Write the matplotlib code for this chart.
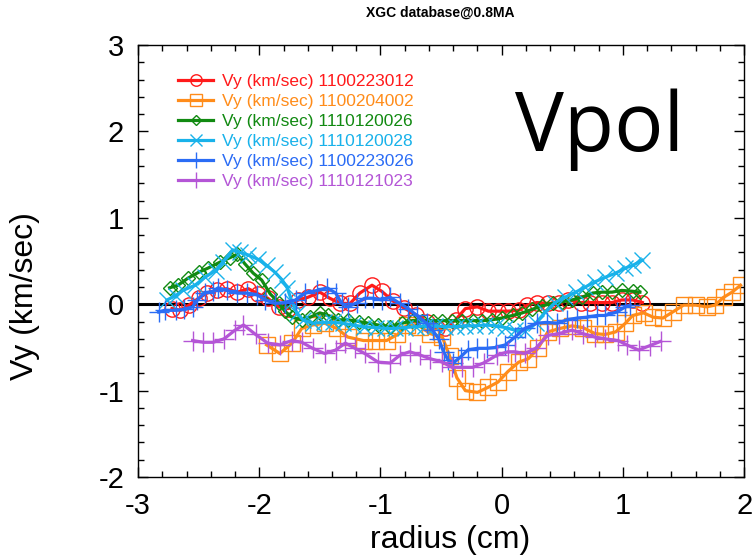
import numpy as np
import matplotlib
matplotlib.use('Agg')
import matplotlib.pyplot as plt
from matplotlib.ticker import MultipleLocator

plt.rcParams['font.family'] = ['Liberation Sans', 'DejaVu Sans']
plt.rcParams['axes.unicode_minus'] = False

# ---- data ----
x_red = [-2.72, -2.65, -2.58, -2.50, -2.43, -2.35, -2.27, -2.18, -2.09, -2.01, -1.93, -1.84, -1.76,
         -1.68, -1.60, -1.50, -1.42, -1.33, -1.25, -1.17, -1.07, -0.99, -0.90, -0.81, -0.71, -0.62,
         -0.53, -0.47, -0.38, -0.30, -0.20, -0.11, -0.03, 0.05, 0.14, 0.21, 0.29, 0.38, 0.47, 0.55,
         0.65, 0.73, 0.83, 0.91, 0.99, 1.08, 1.16]
y_red = [-0.05, -0.07, -0.01, 0.07, 0.13, 0.16, 0.18, 0.14, 0.18, 0.12, 0.07, -0.03, -0.05,
         0.05, 0.08, 0.14, 0.07, 0.01, 0.01, 0.13, 0.22, 0.15, 0.04, -0.04, -0.12, -0.20,
         -0.28, -0.28, -0.18, -0.05, -0.03, -0.08, -0.08, -0.08, -0.07, -0.01, 0.02, 0.01, 0.01, 0.05,
         0.02, 0.02, 0.02, 0.02, 0.05, 0.05, 0.02]

x_orange = [-1.94, -1.83, -1.73, -1.65, -1.56, -1.46, -1.36, -1.27, -1.14, -1.04, -0.95, -0.86,
            -0.78, -0.67, -0.59, -0.49, -0.43, -0.37, -0.30, -0.20, -0.11, -0.03, 0.05, 0.14,
            0.22, 0.30, 0.38, 0.48, 0.58, 0.67, 0.77, 0.85, 0.94, 1.02, 1.08, 1.17, 1.25, 1.33,
            1.41, 1.50, 1.60, 1.69, 1.76, 1.83, 1.90, 1.97]
y_orange = [-0.47, -0.57, -0.45, -0.28, -0.24, -0.22, -0.28, -0.38, -0.42, -0.42, -0.42, -0.35,
            -0.24, -0.26, -0.34, -0.38, -0.60, -0.85, -1.00, -1.02, -0.96, -0.90, -0.78, -0.67,
            -0.63, -0.51, -0.32, -0.28, -0.25, -0.27, -0.34, -0.35, -0.32, -0.22, -0.13, -0.10,
            -0.15, -0.16, -0.09, -0.01, -0.01, -0.03, -0.01, 0.08, 0.14, 0.22]

x_green = [-2.74, -2.67, -2.59, -2.50, -2.42, -2.32, -2.24, -2.18, -2.12, -2.05, -1.98, -1.91,
           -1.84, -1.79, -1.73, -1.65, -1.58, -1.50, -1.43, -1.35, -1.27, -1.18, -1.10, -1.02,
           -0.92, -0.82, -0.74, -0.66, -0.57, -0.49, -0.41, -0.33, -0.24, -0.16, -0.08, 0.00,
           0.09, 0.17, 0.25, 0.33, 0.42, 0.50, 0.58, 0.66, 0.75, 0.83, 0.91, 0.99, 1.08, 1.14]
y_green = [0.19, 0.22, 0.30, 0.37, 0.42, 0.49, 0.54, 0.58, 0.47, 0.36, 0.28, 0.12,
           0.02, -0.08, -0.15, -0.18, -0.15, -0.10, -0.13, -0.18, -0.18, -0.20, -0.22, -0.24,
           -0.26, -0.22, -0.19, -0.19, -0.19, -0.19, -0.19, -0.19, -0.19, -0.19, -0.18, -0.16,
           -0.13, -0.10, -0.06, -0.02, 0.01, 0.03, 0.05, 0.08, 0.13, 0.14, 0.14, 0.16, 0.15, 0.14]

x_cyan = [-2.76, -2.69, -2.63, -2.53, -2.45, -2.36, -2.30, -2.22, -2.16, -2.09, -2.01, -1.94,
          -1.87, -1.81, -1.77, -1.73, -1.69, -1.64, -1.56, -1.47, -1.39, -1.31, -1.23, -1.14,
          -1.04, -0.96, -0.88, -0.80, -0.71, -0.63, -0.55, -0.47, -0.38, -0.30, -0.22, -0.14,
          -0.05, 0.03, 0.11, 0.19, 0.28, 0.36, 0.44, 0.52, 0.61, 0.69, 0.77, 0.85, 0.94, 1.02,
          1.08, 1.16]
y_cyan = [0.05, 0.10, 0.16, 0.22, 0.31, 0.39, 0.49, 0.63, 0.60, 0.57, 0.52, 0.45,
          0.37, 0.28, 0.19, 0.03, -0.10, -0.18, -0.22, -0.21, -0.21, -0.22, -0.24, -0.26,
          -0.27, -0.28, -0.28, -0.27, -0.26, -0.25, -0.25, -0.26, -0.26, -0.25, -0.25, -0.24,
          -0.25, -0.27, -0.30, -0.31, -0.22, -0.09, 0.02, 0.08, 0.14, 0.20, 0.26, 0.31, 0.36, 0.42,
          0.45, 0.51]

x_blue = [-2.83, -2.78, -2.69, -2.62, -2.55, -2.51, -2.45, -2.38, -2.34, -2.27, -2.18, -2.10,
          -2.02, -1.95, -1.87, -1.79, -1.70, -1.62, -1.52, -1.44, -1.37, -1.32, -1.27, -1.19,
          -1.13, -1.06, -0.99, -0.92, -0.84, -0.77, -0.70, -0.62, -0.57, -0.52, -0.48, -0.44,
          -0.40, -0.34, -0.28, -0.20, -0.12, -0.05, 0.03, 0.11, 0.19, 0.29, 0.37, 0.46, 0.54,
          0.62, 0.70, 0.79, 0.85, 0.95, 1.02, 1.06]
y_blue = [-0.09, -0.07, -0.07, -0.06, -0.03, 0.05, 0.13, 0.15, 0.19, 0.16, 0.13, 0.13,
          0.11, 0.05, 0.01, 0.02, 0.05, 0.13, 0.16, 0.19, 0.13, 0.01, -0.03, 0.02,
          0.07, 0.07, 0.05, 0.08, 0.01, -0.05, -0.13, -0.22, -0.30, -0.40, -0.55, -0.65,
          -0.68, -0.61, -0.53, -0.51, -0.51, -0.50, -0.47, -0.38, -0.28, -0.22, -0.21, -0.22, -0.18,
          -0.16, -0.15, -0.13, -0.13, -0.09, -0.03, -0.01]

x_purple = [-2.55, -2.46, -2.38, -2.29, -2.20, -2.13, -2.03, -1.93, -1.83, -1.73, -1.65, -1.56,
            -1.46, -1.37, -1.29, -1.21, -1.13, -1.02, -0.92, -0.84, -0.76, -0.67, -0.59, -0.49,
            -0.41, -0.33, -0.24, -0.15, -0.04, 0.05, 0.11, 0.19, 0.28, 0.38, 0.47, 0.58, 0.67,
            0.77, 0.85, 0.96, 1.03, 1.13, 1.22, 1.31]
y_purple = [-0.42, -0.44, -0.44, -0.40, -0.30, -0.24, -0.35, -0.45, -0.47, -0.42, -0.44, -0.51,
            -0.57, -0.53, -0.45, -0.51, -0.57, -0.67, -0.68, -0.59, -0.55, -0.59, -0.63, -0.67,
            -0.73, -0.73, -0.73, -0.68, -0.59, -0.55, -0.55, -0.57, -0.51, -0.36, -0.34, -0.30, -0.34,
            -0.38, -0.40, -0.42, -0.47, -0.53, -0.48, -0.43]

labels = ['Vy (km/sec) 1100223012', 'Vy (km/sec) 1100204002', 'Vy (km/sec) 1110120026',
          'Vy (km/sec) 1110120028', 'Vy (km/sec) 1100223026', 'Vy (km/sec) 1110121023']

#%%
fig = plt.figure(figsize=(7.53, 5.56), dpi=100)
ax = fig.add_axes([0.1833, 0.142, 0.805, 0.777])

ax.axhline(0, color='black', linewidth=2.2, zorder=1)

series = [
    (x_red, y_red, '#ff1a1a', 'o', 11),
    (x_orange, y_orange, '#ff8c1a', 's', 11),
    (x_green, y_green, '#118a11', 'D', 7),
    (x_cyan, y_cyan, '#19b2ea', 'x', 11),
    (x_blue, y_blue, '#2a6cf5', '+', 15),
    (x_purple, y_purple, '#b455d6', '+', 15),
]
for (xs, ys, c, m, ms), lab in zip(series, labels):
    ax.plot(xs, ys, color=c, linewidth=2.3, marker=m, markersize=ms,
            markerfacecolor='none', markeredgecolor=c, markeredgewidth=1.0,
            label=lab, zorder=2)

ax.set_xlim(-3, 2)
ax.set_ylim(-2, 3)
ax.xaxis.set_major_locator(MultipleLocator(1))
ax.xaxis.set_minor_locator(MultipleLocator(0.2))
ax.yaxis.set_major_locator(MultipleLocator(1))
ax.yaxis.set_minor_locator(MultipleLocator(0.2))
ax.tick_params(which='both', direction='in', top=True, right=True, width=1.0)
ax.tick_params(which='major', length=7, labelsize=21, pad=10)
ax.tick_params(axis='x', which='major', pad=11)
ax.tick_params(which='minor', length=4)
for s in ax.spines.values():
    s.set_linewidth(1.0)

ax.set_xlabel('radius (cm)', fontsize=23)
ax.xaxis.set_label_coords(0.515, -0.112)
ax.set_ylabel('Vy (km/sec)', fontsize=23)
ax.yaxis.set_label_coords(-0.162, 0.42)
fig.text(0.585, 0.978, 'XGC database@0.8MA', fontsize=10, fontweight='bold',
         ha='center', va='center')

leg = ax.legend(loc='upper left', bbox_to_anchor=(0.055, 0.95), frameon=False,
                fontsize=12.5, labelcolor='linecolor', handlelength=2.0,
                handletextpad=0.5, labelspacing=0.28, borderaxespad=0,
                markerscale=0.75)

ax.text(0.622, 0.805, 'Vpol', transform=ax.transAxes, fontsize=59,
        family=['Open Sans', 'DejaVu Sans'], ha='left', va='center')

plt.savefig('out.png', dpi=100)
